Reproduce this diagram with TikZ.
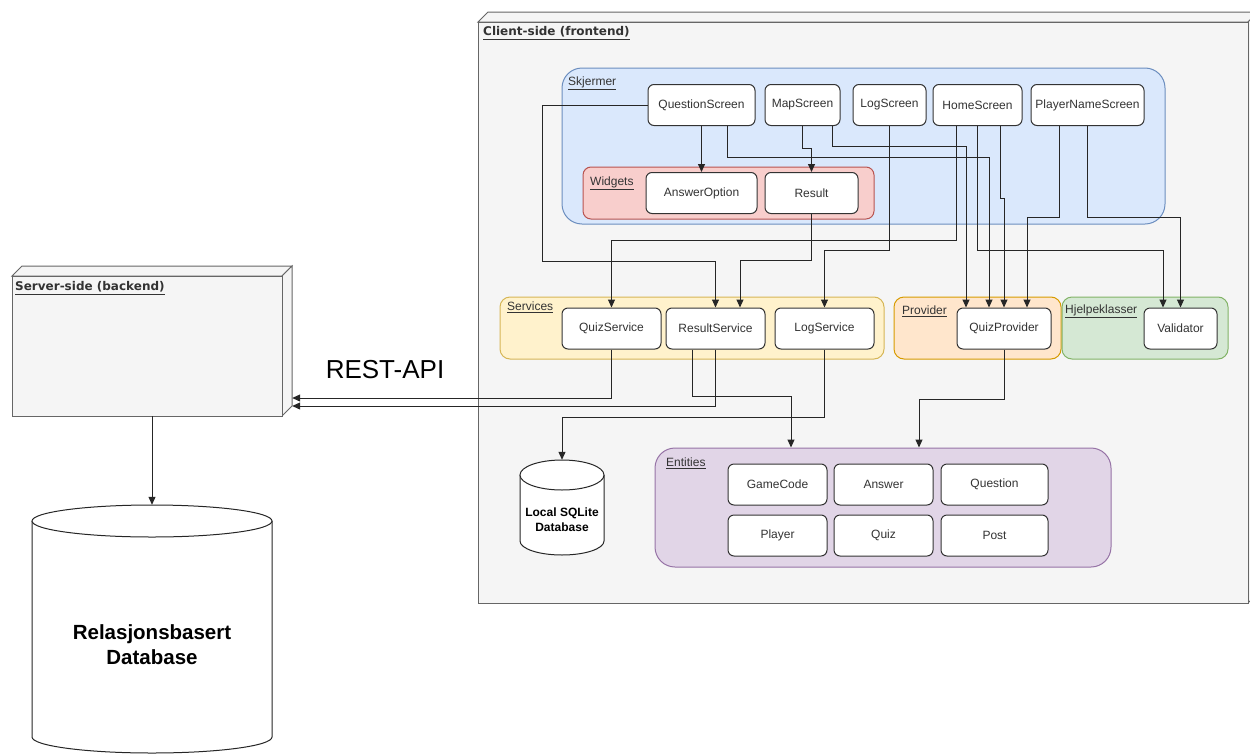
\documentclass[tikz,border=0pt]{standalone}
\usepackage{fontspec}
\setmainfont{Liberation Sans}
\newfontfamily\headfont{DejaVu Sans}
\usetikzlibrary{arrows.meta}

\definecolor{cubeFill}{HTML}{F5F5F5}
\definecolor{cubeLine}{HTML}{666666}
\definecolor{boxLine}{HTML}{333333}
\definecolor{txtGrey}{HTML}{333333}
\definecolor{skjFill}{HTML}{DAE8FC}
\definecolor{skjLine}{HTML}{6C8EBF}
\definecolor{widFill}{HTML}{F8CECC}
\definecolor{widLine}{HTML}{B85450}
\definecolor{srvcFill}{HTML}{FFF2CC}
\definecolor{srvcLine}{HTML}{D6B656}
\definecolor{provFill}{HTML}{FFE6CC}
\definecolor{provLine}{HTML}{D79B00}
\definecolor{hjelpFill}{HTML}{D5E8D4}
\definecolor{hjelpLine}{HTML}{82B366}
\definecolor{entFill}{HTML}{E1D5E7}
\definecolor{entLine}{HTML}{9673A6}

\tikzset{
  box/.style={draw=boxLine, fill=white, line width=1pt, rounded corners=6pt,
    minimum height=41pt, inner sep=0pt, text=txtGrey, font=\fontsize{12}{14}\selectfont},
  grp/.style={line width=1pt, inner sep=0pt},
  lbl/.style={anchor=west, inner sep=0pt, text=txtGrey, font=\fontsize{12}{14}\selectfont},
  head/.style={anchor=west, inner sep=0pt, text=txtGrey, font=\headfont\bfseries\fontsize{12}{14}\selectfont},
  cube/.style={draw=cubeLine, fill=cubeFill, line width=1pt},
  conn/.style={draw=black!85, line width=1pt, -{Triangle[length=8pt,width=7pt]}},
  dbline/.style={draw=black!85, fill=white, line width=1pt},
  dbtext/.style={align=center, inner sep=0pt, font=\bfseries\fontsize{12}{15}\selectfont},
}

\begin{document}
\begin{tikzpicture}[x=1pt, y=-1pt]
  \useasboundingbox (0,0) rectangle (1250,755);

  \draw[cube] (478,22) -- (488,12) -- (1258,12) -- (1248,22) -- cycle;
  \draw[cube] (1248,22) -- (1258,12) -- (1258,593) -- (1248,603) -- cycle;
  \draw[cube] (478,22) rectangle (1248,603);
  \node[head] (clientLbl) at (483,33) {\underline{Client-side (frontend)}};

  \draw[cube] (12,276) -- (22,266) -- (292,266) -- (282,276) -- cycle;
  \draw[cube] (282,276) -- (292,266) -- (292,406) -- (282,416) -- cycle;
  \draw[cube] (12,276) rectangle (282,416);
  \node[inner sep=0pt, minimum width=280pt, minimum height=150pt] (srv) at (152,341) {};
  \node[head] (serverLbl) at (15,288) {\underline{Server-side (backend)}};

  \node[font=\fontsize{26}{30}\selectfont, inner sep=0pt] (rest) at (385,370) {REST-API};

  \node[inner sep=0pt, minimum width=240pt, minimum height=250pt] (rdb) at (152,630) {};
  \draw[dbline] (32,521) -- (32,737)
    arc[start angle=180, end angle=0, x radius=120, y radius=16] -- (272,521);
  \draw[dbline] (152,521) ellipse [x radius=120, y radius=16];
  \node[dbtext, font=\bfseries\fontsize{20.5}{25}\selectfont] (rdbTxt) at (152,645) {Relasjonsbasert\\Database};

  \node[inner sep=0pt, minimum width=84pt, minimum height=95pt] (sql) at (562,507.5) {};
  \draw[dbline] (520,475) -- (520,541)
    arc[start angle=180, end angle=0, x radius=42, y radius=14] -- (604,475);
  \draw[dbline] (562,475) ellipse [x radius=42, y radius=15];
  \node[dbtext] (sqlTxt) at (562,520) {Local SQLite\\Database};

  \node[grp, draw=skjLine, fill=skjFill, rounded corners=20pt, minimum width=603pt, minimum height=156pt] (skj) at (863.5,146) {};
  \node[lbl] (skjLbl) at (568,83) {\underline{Skjermer}};
  \node[grp, draw=widLine, fill=widFill, rounded corners=8pt, minimum width=291pt, minimum height=52pt] (wid) at (728.5,193) {};
  \node[lbl] (widLbl) at (590,183) {\underline{Widgets}};
  \node[grp, draw=srvcLine, fill=srvcFill, rounded corners=10pt, minimum width=384pt, minimum height=62pt] (srvc) at (692,328) {};
  \node[lbl] (srvcLbl) at (507,307) {\underline{Services}};
  \node[grp, draw=provLine, fill=provFill, rounded corners=10pt, minimum width=167pt, minimum height=62pt] (prov) at (977.5,328) {};
  \node[lbl] (provLbl) at (902,311) {\underline{Provider}};
  \node[grp, draw=hjelpLine, fill=hjelpFill, rounded corners=10pt, minimum width=166pt, minimum height=62pt] (hjelp) at (1145,328) {};
  \node[lbl] (hjelpLbl) at (1065,311) {\underline{Hjelpeklasser}};
  \node[grp, draw=entLine, fill=entFill, rounded corners=20pt, minimum width=456pt, minimum height=119pt] (ent) at (883,507.5) {};
  \node[lbl] (entLbl) at (666,463) {\underline{Entities}};

  \node[box, minimum width=107pt] (QS) at (701.5,105) {QuestionScreen};
  \node[box, minimum width=75pt] (MS) at (802.5,105) {MapScreen};
  \node[box, minimum width=73pt] (LS) at (889.5,105) {LogScreen};
  \node[box, minimum width=89pt] (HS) at (977.5,105) {HomeScreen};
  \node[box, minimum width=113pt] (PS) at (1087.5,105) {PlayerNameScreen};

  \node[box, minimum width=111pt] (AO) at (701.5,193) {AnswerOption};
  \node[box, minimum width=93pt] (RE) at (811.5,193) {Result};

  \node[box, minimum width=99pt] (QSv) at (611.5,328.5) {QuizService};
  \node[box, minimum width=99pt] (RSv) at (715.5,328.5) {ResultService};
  \node[box, minimum width=99pt] (LSv) at (824.5,328.5) {LogService};
  \node[box, minimum width=94pt] (QP) at (1004,328.5) {QuizProvider};
  \node[box, minimum width=73pt] (VA) at (1180.5,328.5) {Validator};

  \node[box, minimum width=99pt] (GC) at (777.5,484.5) {GameCode};
  \node[box, minimum width=99pt] (AN) at (883.5,484.5) {Answer};
  \node[box, minimum width=107pt] (QU) at (994.5,484.5) {Question};
  \node[box, minimum width=99pt] (PL) at (777.5,535.5) {Player};
  \node[box, minimum width=99pt] (QZ) at (883.5,535.5) {Quiz};
  \node[box, minimum width=107pt] (PO) at (994.5,535.5) {Post};

  \draw[conn] (QS.south) -- (AO.north);
  \draw[conn] (QS.west) -| (542,261) -| (RSv.north);
  \draw[conn] ([xshift=26pt]QS.south) |- (989,157) -- ([xshift=-15pt]QP.north);
  \draw[conn] (MS.south) |- (811.5,148) -- (RE.north);
  \draw[conn] ([xshift=30pt]MS.south) |- (966,146) -- ([xshift=-38pt]QP.north);
  \draw[conn] (LS.south) |- (824.5,250) -- (LSv.north);
  \draw[conn] (RE.south) |- (740,260) -- ([xshift=24.5pt]RSv.north);
  \draw[conn] ([xshift=-21.5pt]HS.south) |- (611.5,240) -- (QSv.north);
  \draw[conn] (HS.south) |- (1163,250) -- ([xshift=-17.5pt]VA.north);
  \draw[conn] ([xshift=22.5pt]HS.south) |- (1004,198) -- (QP.north);
  \draw[conn] ([xshift=-28.5pt]PS.south) |- (1027,217) -- ([xshift=23pt]QP.north);
  \draw[conn] (PS.south) |- (1180.5,217) -- (VA.north);

  \draw[conn] (QSv.south) |- (srv.east |- 0,398);
  \draw[conn] (RSv.south) |- (srv.east |- 0,406);
  \draw[conn] ([xshift=-23.5pt]RSv.south) |- (791,396) -- ([xshift=-92pt]ent.north);
  \draw[conn] (LSv.south) |- (562,417) -- (sql.north);
  \draw[conn] (QP.south) |- (919,399) -- ([xshift=36pt]ent.north);
  \draw[conn] (srv.south) -- (rdb.north);
\end{tikzpicture}
\end{document}
